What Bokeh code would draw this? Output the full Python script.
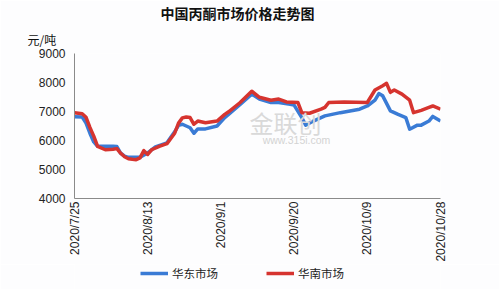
import math
import pandas as pd
from bokeh.plotting import figure
from bokeh.layouts import column
from bokeh.models import Label, Legend, LegendItem, FixedTicker, Title
from bokeh.embed import file_html
from bokeh.resources import INLINE

title_text = "中国丙酮市场价格走势图"
unit_text = "元/吨"
series_names = ["华东市场", "华南市场"]
start_date = "2020-07-25"
tick_labels = ["2020/7/25", "2020/8/13", "2020/9/1", "2020/9/20", "2020/10/9", "2020/10/28"]
y_ticks = [4000, 5000, 6000, 7000, 8000, 9000]

east_dates = ["2020-07-25", "2020-07-27", "2020-07-28", "2020-07-29", "2020-07-30", "2020-07-31",
              "2020-08-04", "2020-08-05", "2020-08-06", "2020-08-07", "2020-08-08", "2020-08-11",
              "2020-08-13", "2020-08-15", "2020-08-18", "2020-08-20", "2020-08-21", "2020-08-22",
              "2020-08-24", "2020-08-25", "2020-08-26", "2020-08-28", "2020-08-31", "2020-09-02",
              "2020-09-03", "2020-09-06", "2020-09-09", "2020-09-11", "2020-09-14", "2020-09-16",
              "2020-09-19", "2020-09-20", "2020-09-22", "2020-09-23", "2020-09-25", "2020-09-26",
              "2020-09-28", "2020-10-02", "2020-10-07", "2020-10-09", "2020-10-11", "2020-10-12",
              "2020-10-13", "2020-10-15", "2020-10-17", "2020-10-19", "2020-10-20", "2020-10-22",
              "2020-10-23", "2020-10-25", "2020-10-26", "2020-10-28"]
east_values = [6820, 6810, 6600, 6250, 5950, 5800,
               5800, 5790, 5560, 5460, 5420, 5420,
               5570, 5780, 5920, 6300, 6520, 6560,
               6440, 6250, 6400, 6400, 6500, 6790,
               6900, 7240, 7600, 7430, 7310, 7310,
               7250, 7220, 6790, 6530, 6670, 6730,
               6850, 6960, 7080, 7190, 7390, 7620,
               7540, 7020, 6900, 6790, 6390, 6530,
               6530, 6670, 6830, 6670]

south_dates = ["2020-07-25", "2020-07-27", "2020-07-28", "2020-07-29", "2020-07-30", "2020-07-31",
               "2020-08-02", "2020-08-04", "2020-08-05", "2020-08-06", "2020-08-07", "2020-08-08",
               "2020-08-09", "2020-08-10", "2020-08-11", "2020-08-12", "2020-08-13", "2020-08-14",
               "2020-08-16", "2020-08-18", "2020-08-20", "2020-08-21", "2020-08-22", "2020-08-23",
               "2020-08-24", "2020-08-25", "2020-08-26", "2020-08-28", "2020-08-31", "2020-09-02",
               "2020-09-03", "2020-09-06", "2020-09-09", "2020-09-11", "2020-09-14", "2020-09-16",
               "2020-09-18", "2020-09-21", "2020-09-22", "2020-09-24", "2020-09-27", "2020-09-28",
               "2020-09-29", "2020-10-03", "2020-10-09", "2020-10-11", "2020-10-13", "2020-10-14",
               "2020-10-15", "2020-10-16", "2020-10-18", "2020-10-20", "2020-10-21", "2020-10-23",
               "2020-10-25", "2020-10-26", "2020-10-28"]
south_values = [6960, 6920, 6800, 6450, 6150, 5800,
                5680, 5700, 5720, 5560, 5440, 5370,
                5350, 5340, 5400, 5650, 5520, 5680,
                5800, 5890, 6250, 6600, 6780, 6810,
                6790, 6560, 6670, 6610, 6670, 6900,
                6990, 7310, 7700, 7490, 7390, 7430,
                7330, 7310, 6960, 6940, 7080, 7140,
                7310, 7330, 7310, 7740, 7890, 7970,
                7660, 7740, 7600, 7390, 6960, 7040,
                7140, 7190, 7080]

t0 = pd.Timestamp(start_date)
def to_day(d):
    return (pd.to_datetime(d) - t0).days

east_x = [to_day(d) for d in east_dates]
south_x = [to_day(d) for d in south_dates]
tick_x = [to_day(d) for d in tick_labels]

BLUE = "#3a7bd5"
RED = "#d6342f"
CJK = "Noto Sans CJK SC"
LAT = "Liberation Sans"
BG = "#fdfdfe"

p = figure(frame_width=366, frame_height=145, x_range=(0, 95), y_range=(4000, 9000),
           output_backend="svg", toolbar_location=None,
           min_border_left=74, min_border_right=59, min_border_top=52, min_border_bottom=66)
p.background_fill_color = BG
p.border_fill_color = BG
p.outline_line_color = None
p.xgrid.visible = False
p.ygrid.visible = False

p.line(east_x, east_values, line_color=BLUE, line_width=3.5, line_join="round")
p.line(south_x, south_values, line_color=RED, line_width=3.5, line_join="round")

p.yaxis.ticker = FixedTicker(ticks=y_ticks)
p.yaxis.major_label_text_font = LAT
p.yaxis.major_label_text_font_size = "12px"
p.yaxis.major_label_text_color = "#222222"
p.yaxis.major_label_standoff = 9
p.xaxis.ticker = FixedTicker(ticks=tick_x)
p.xaxis.major_label_overrides = {int(t): lab for t, lab in zip(tick_x, tick_labels)}
p.xaxis.major_label_orientation = math.pi / 2
p.xaxis.major_label_text_font = LAT
p.xaxis.major_label_text_font_size = "12px"
p.xaxis.major_label_text_color = "#222222"
p.xaxis.major_label_standoff = 3
for ax in (p.xaxis, p.yaxis):
    ax.axis_line_color = "#8a8a8a"
    ax.axis_line_width = 1
    ax.major_tick_line_color = None
    ax.minor_tick_line_color = None
    ax.major_tick_out = 0
    ax.major_tick_in = 0

# titles in the top panel
p.add_layout(Title(text=unit_text, align="left", offset=-47, text_font=CJK,
                   text_font_size="12px", text_font_style="normal", text_color="#111111",
                   text_line_height=0.8, standoff=12), "above")
p.add_layout(Title(text=title_text, align="left", offset=86, text_font=CJK,
                   text_font_size="14px", text_font_style="bold", text_color="#111111",
                   standoff=0), "above")

# watermark inside frame (screen coords from frame bottom-left: frame left 74px, bottom 197px)
def lab(text, px, py, size, font, color):
    p.add_layout(Label(x=px - 74, y=197 - py, x_units="screen", y_units="screen", text=text,
                       text_font=font, text_font_size=size, text_color=color,
                       text_align="center", text_baseline="middle"))

lab("金联创", 285, 121, "24px", CJK, "#d9d9d9")
lab("www.315i.com", 296, 138, "10.5px", LAT, "#d3d3d3")

# legend strip below the chart (its frame is aligned with the chart frame, left edge at 74px)
q = figure(width=499, height=26, x_range=(0, 1), y_range=(0, 1),
           x_axis_type=None, y_axis_type=None, output_backend="svg", toolbar_location=None,
           min_border_left=0, min_border_right=0, min_border_top=0, min_border_bottom=0)
q.background_fill_color = BG
q.border_fill_color = BG
q.outline_line_color = None
q.xgrid.visible = False
q.ygrid.visible = False
# legend proxies, placed outside the strip's visible range
k_east = q.line(x=[2, 3], y=[2, 3], line_color=BLUE, line_width=3.5)
k_south = q.line(x=[2, 3], y=[2, 3], line_color=RED, line_width=3.5)

legend = Legend(items=[LegendItem(label=series_names[0], renderers=[k_east]),
                       LegendItem(label=series_names[1], renderers=[k_south])],
                location=(66, 9), orientation="horizontal")
legend.glyph_width = 28
legend.glyph_height = 12
legend.label_height = 12
legend.label_standoff = 4
legend.spacing = 48
legend.padding = 0
legend.margin = 0
legend.border_line_color = None
legend.background_fill_alpha = 0
legend.label_text_font = CJK
legend.label_text_font_size = "11.5px"
legend.label_text_color = "#222222"
q.add_layout(legend, "center")

layout = column(p, q, spacing=0)
open("out.html", "w").write(file_html(layout, INLINE))
